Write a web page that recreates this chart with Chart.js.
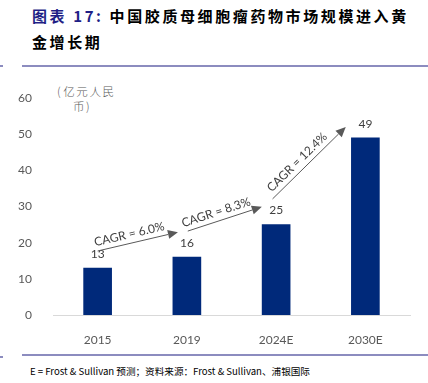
<!DOCTYPE html>
<html><head><meta charset="utf-8">
<script src="https://cdn.jsdelivr.net/npm/chart.js@4"></script>
<style>
html,body{margin:0;padding:0;background:#fff;width:428px;height:383px;overflow:hidden;position:relative;font-family:"Noto Sans CJK SC",sans-serif}
.t{position:absolute;left:32px;font-size:15px;font-weight:700;letter-spacing:2.6px;color:#000;white-space:nowrap;line-height:15px}
.rule{position:absolute;height:1.5px;background:#8c8cbf}
#wrap{position:absolute;left:0;top:70px;width:428px;height:275px}
.unit{position:absolute;font-size:11.5px;color:#595959;font-weight:300;line-height:15px;white-space:nowrap;letter-spacing:1.6px}
.foot{position:absolute;left:30px;top:364px;font-size:9.6px;color:#000;white-space:nowrap;font-weight:400}
</style></head><body>
<div class="t" style="top:8px"><span style="color:#1f1f86">图表 17:</span> 中国胶质母细胞瘤药物市场规模进入黄</div>
<div class="t" style="top:34px">金增长期</div>
<div class="rule" style="left:0;width:3px;top:65px"></div>
<div class="rule" style="left:22px;right:0;top:65px"></div>
<div class="rule" style="left:0;width:3px;top:356px"></div>
<div class="rule" style="left:22px;right:0;top:354px"></div>
<div class="unit" style="left:57px;top:84px"><span style="margin-right:1px">(</span>亿元人民</div>
<div class="unit" style="left:73px;top:99px">币<span>)</span></div>
<div id="wrap"><canvas id="c" width="428" height="275"></canvas></div>
<div class="foot">E = Frost &amp; Sullivan 预测；资料来源：Frost &amp; Sullivan、浦银国际</div>
<script>
const categories = ["2015", "2019", "2024E", "2030E"];
const values = [13, 16, 25, 49];
const yTicks = [0, 10, 20, 30, 40, 50, 60];
const cagrLabels = ["CAGR = 6.0%", "CAGR = 8.3%", "CAGR = 12.4%"];
// arrow endpoints in data space: [fromIndex, fromValue, toIndex, toValue]
const cagrArrows = [[0.0, 17.7, 0.9, 22.9], [1.01, 23.2, 1.84, 29.9], [1.96, 32.1, 2.78, 52.0]];

const overlay = {
  id: 'overlay',
  afterDatasetsDraw(chart) {
    const ctx = chart.ctx, x = chart.scales.x, y = chart.scales.y;
    const meta = chart.getDatasetMeta(0);
    ctx.save();
    ctx.font = '12px Lato';
    ctx.fillStyle = '#404040';
    ctx.textAlign = 'center';
    ctx.textBaseline = 'middle';
    meta.data.forEach((b, i) => {
      ctx.fillText(String(values[i]), b.x, b.y - 14);
    });
    const px = v => { const i0 = Math.floor(v), f = v - i0; const a = x.getPixelForValue(Math.min(i0, categories.length-1)); const b2 = x.getPixelForValue(Math.min(i0+1, categories.length-1)); return i0 >= categories.length-1 ? a + f*(a - x.getPixelForValue(i0-1)) : a + f*(b2-a); };
    cagrArrows.forEach((a, k) => {
      const x1 = px(a[0]), y1 = y.getPixelForValue(a[1]), x2 = px(a[2]), y2 = y.getPixelForValue(a[3]);
      const ang = Math.atan2(y2 - y1, x2 - x1);
      const hl = 10, hw = 4.5;
      const bx = x2 - hl*Math.cos(ang), by = y2 - hl*Math.sin(ang);
      ctx.strokeStyle = '#595959'; ctx.lineWidth = 1;
      ctx.beginPath(); ctx.moveTo(x1, y1); ctx.lineTo(bx, by); ctx.stroke();
      ctx.fillStyle = '#595959';
      ctx.beginPath(); ctx.moveTo(x2, y2);
      ctx.lineTo(bx + hw*Math.sin(ang), by - hw*Math.cos(ang));
      ctx.lineTo(bx - hw*Math.sin(ang), by + hw*Math.cos(ang));
      ctx.closePath(); ctx.fill();
      const t = 0.42, off = 9;
      const mx = x1 + (x2-x1)*t + off*Math.sin(ang), my = y1 + (y2-y1)*t - off*Math.cos(ang);
      ctx.save(); ctx.translate(mx, my); ctx.rotate(ang);
      ctx.fillStyle = '#404040'; ctx.font = '12px Lato';
      ctx.fillText(cagrLabels[k], 0, 0);
      ctx.restore();
    });
    ctx.restore();
  }
};

new Chart(document.getElementById('c'), {
  type: 'bar',
  data: { labels: categories, datasets: [{ data: values, backgroundColor: '#00297a', barThickness: 28 }] },
  options: {
    responsive: false, animation: false,
    layout: { padding: { top: 28, right: 18, left: 0, bottom: 0 } },
    plugins: { legend: { display: false }, tooltip: { enabled: false } },
    scales: {
      x: {
        grid: { display: false },
        border: { display: true, color: '#d9d9d9', width: 1 },
        ticks: { color: '#595959', font: { family: 'Lato', size: 12 }, padding: 10 },
        afterFit: s => { s.height = 30; }
      },
      y: {
        min: 0, max: 60,
        afterBuildTicks: s => { s.ticks = yTicks.map(v => ({ value: v })); },
        grid: { display: false },
        border: { display: false },
        ticks: { color: '#595959', font: { family: 'Lato', size: 12 }, padding: 13 },
        afterFit: s => { s.width = 53; }
      }
    }
  },
  plugins: [overlay]
});
</script>
</body></html>
